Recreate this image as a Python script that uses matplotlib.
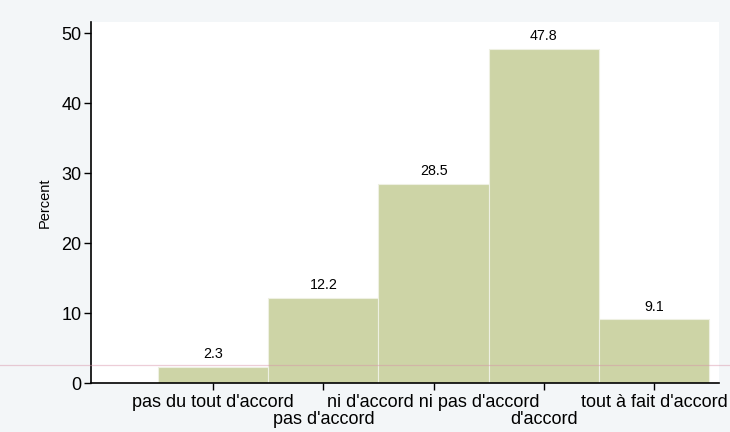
import numpy as np
import matplotlib.pyplot as plt
from matplotlib.lines import Line2D

# data
categories = ["pas du tout d'accord", "pas d'accord", "ni d'accord ni pas d'accord",
              "d'accord", "tout à fait d'accord"]
percent = [2.3, 12.2, 28.5, 47.8, 9.1]
yticks = [0, 10, 20, 30, 40, 50]

plt.rcParams['font.family'] = ['Liberation Sans', 'DejaVu Sans']

fig = plt.figure(figsize=(7.30, 4.32), dpi=100, facecolor='#f3f6f8')
ax = fig.add_axes([91/730, 49/432, (719-91)/730, (383-22)/432])
ax.set_facecolor('white')

x = np.arange(1, len(categories) + 1)
ax.bar(x, percent, width=1.0, color='#cdd4a6', edgecolor='#eef0e2', linewidth=0.8)
for xi, v in zip(x, percent):
    ax.text(xi, v + 0.8, '%.1f' % v, ha='center', va='bottom', fontsize=10.3)

ax.set_xlim(-0.109, 5.59)
ax.set_ylim(0, 51.6)
ax.set_yticks(yticks)
ax.set_yticklabels([str(t) for t in yticks], fontsize=13)

# labels alternate on two rows: odd ones as major ticks, even ones as minor ticks
ax.set_xticks(x[0::2])
ax.set_xticklabels(categories[0::2], fontsize=13)
ax.set_xticks(x[1::2], minor=True)
ax.set_xticklabels(categories[1::2], minor=True, fontsize=13)
ax.tick_params(axis='both', which='both', direction='out', length=5, width=1, pad=2)
ax.tick_params(axis='x', which='major', pad=3)
ax.tick_params(axis='x', which='minor', pad=15)
ax.set_ylabel('Percent', fontsize=10.5, labelpad=7)

for s in ['top', 'right']:
    ax.spines[s].set_visible(False)
for s in ['left', 'bottom']:
    ax.spines[s].set_linewidth(1.2)

# faint scan line across the page
fig.add_artist(Line2D([0, 1], [1 - 365/432, 1 - 365/432], transform=fig.transFigure,
                      color='#d890a8', alpha=0.45, lw=0.9, zorder=5))

fig.savefig('out.png', dpi=100, facecolor=fig.get_facecolor())
